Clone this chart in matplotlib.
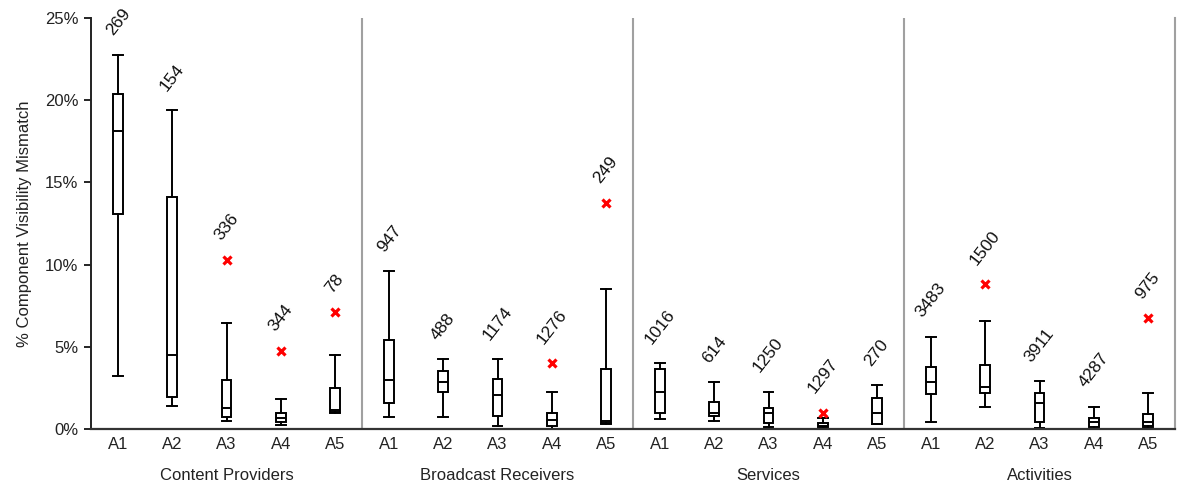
import numpy as np
import matplotlib
matplotlib.use("Agg")
import matplotlib.pyplot as plt
from matplotlib.transforms import blended_transform_factory

plt.rcParams['font.family'] = ['Liberation Sans', 'DejaVu Sans']

groups = ["Content Providers", "Broadcast Receivers", "Services", "Activities"]
categories = ["A1", "A2", "A3", "A4", "A5"]

# percent values, 20 boxes (4 groups x 5 categories)
whislo = [3.2, 1.4, 0.5, 0.25, 1.0,
          0.7, 0.7, 0.2, 0.0, 0.3,
          0.6, 0.5, 0.1, 0.0, 0.3,
          0.45, 1.35, 0.05, 0.0, 0.05]
q1 = [13.1, 1.95, 0.75, 0.45, 1.05,
      1.6, 2.25, 0.8, 0.2, 0.35,
      0.95, 0.8, 0.35, 0.1, 0.3,
      2.1, 2.2, 0.4, 0.1, 0.2]
med = [18.1, 4.5, 1.3, 0.65, 1.15,
       3.0, 2.85, 2.05, 0.55, 0.5,
       2.25, 0.95, 0.95, 0.2, 1.0,
       2.85, 2.55, 1.6, 0.4, 0.45]
q3 = [20.4, 14.1, 3.0, 1.0, 2.5,
      5.4, 3.5, 3.05, 0.95, 3.65,
      3.65, 1.65, 1.3, 0.35, 1.9,
      3.75, 3.9, 2.2, 0.65, 0.9]
whishi = [22.75, 19.4, 6.45, 1.8, 4.5,
          9.6, 4.25, 4.25, 2.25, 8.5,
          4.0, 2.85, 2.25, 0.65, 2.65,
          5.6, 6.55, 2.9, 1.35, 2.2]
outlier = [np.nan, np.nan, 10.3, 4.75, 7.1,
           np.nan, np.nan, np.nan, 4.0, 13.75,
           np.nan, np.nan, np.nan, 1.0, np.nan,
           np.nan, 8.8, np.nan, np.nan, 6.75]
counts = [269, 154, 336, 344, 78,
          947, 488, 1174, 1276, 249,
          1016, 614, 1250, 1297, 270,
          3483, 1500, 3911, 4287, 975]

fig = plt.figure(figsize=(11.86, 4.87), dpi=100)
ax = fig.add_axes([91/1186, 1-429/487, (1175-91)/1186, (429-18)/487])

n = len(counts)
positions = np.arange(n)
stats = []
for i in range(n):
    stats.append(dict(whislo=whislo[i], q1=q1[i], med=med[i], q3=q3[i],
                      whishi=whishi[i], fliers=[]))

bw = 0.18
ax.bxp(stats, positions=positions, widths=bw, capwidths=bw, showfliers=False,
       patch_artist=True,
       boxprops=dict(facecolor='white', edgecolor='black', linewidth=1.4),
       medianprops=dict(color='black', linewidth=1.4),
       whiskerprops=dict(color='black', linewidth=1.4),
       capprops=dict(color='black', linewidth=1.4))

out = np.array(outlier)
ax.plot(positions, out, linestyle='none', marker='x', color='#ff0000',
        markersize=5.5, markeredgewidth=2.3, zorder=5)

for i in range(n):
    top = whishi[i] if np.isnan(out[i]) else max(whishi[i], out[i])
    ax.annotate(str(counts[i]), (positions[i], top), xytext=(0, 12),
                textcoords='offset points', ha='center', va='bottom',
                rotation=52, fontsize=12.5, color='#111111')

ax.set_xlim(-0.5, n - 0.5)
ax.set_ylim(0, 25)
ax.set_yticks([0, 5, 10, 15, 20, 25])
ax.set_yticklabels([f"{v}%" for v in [0, 5, 10, 15, 20, 25]], fontsize=12, color='#222222')
ax.set_xticks(positions)
ax.set_xticklabels(categories * len(groups), fontsize=12, color='#222222')
ax.tick_params(axis='x', length=0, pad=6)
ax.tick_params(axis='y', length=5, width=1.2, direction='out', pad=4)

ax.spines['top'].set_visible(False)
ax.spines['right'].set_color('#a0a0a0')
ax.spines['right'].set_linewidth(1.5)
ax.spines['left'].set_color('#222222')
ax.spines['left'].set_linewidth(1.4)
ax.spines['bottom'].set_color('#333333')
ax.spines['bottom'].set_linewidth(1.6)

for g in range(1, len(groups)):
    ax.axvline(g * len(categories) - 0.5, color='#a0a0a0', linewidth=1.5, zorder=0)

trans = blended_transform_factory(ax.transData, ax.transAxes)
for g, name in enumerate(groups):
    cx = g * len(categories) + (len(categories) - 1) / 2
    ax.text(cx, -0.112, name, transform=trans, ha='center', va='center',
            fontsize=12, color='#222222')

ax.set_ylabel("% Component Visibility Mismatch", fontsize=12, color='#222222', labelpad=9)

fig.savefig("out.png", dpi=100)
